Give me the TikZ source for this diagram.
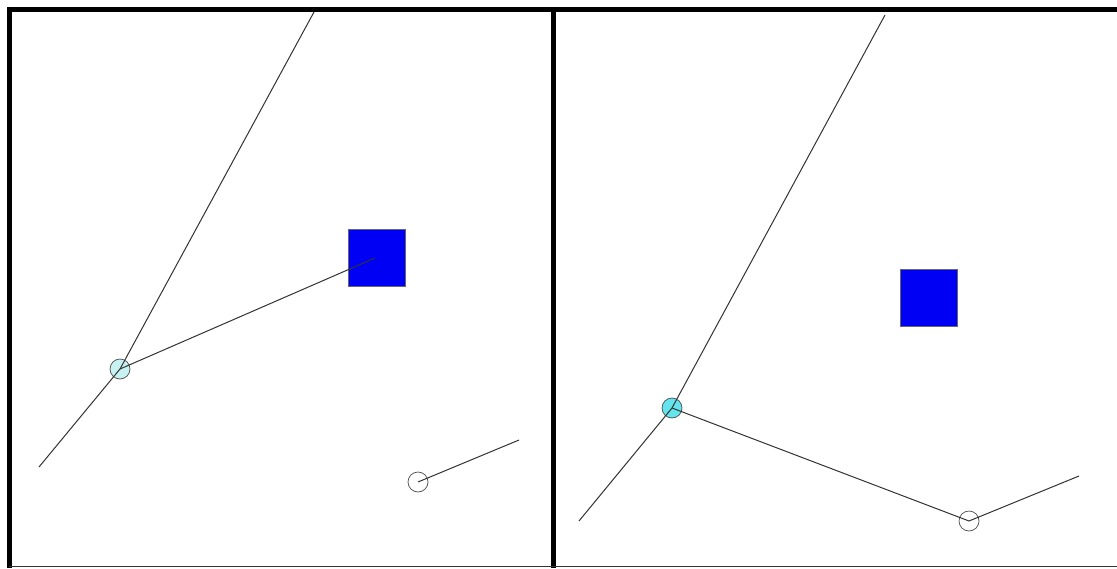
\documentclass[tikz,border=0pt]{standalone}
\usepackage{tikz}
\usetikzlibrary{calc}

\definecolor{palecyan}{RGB}{200,242,242}
\definecolor{midcyan}{RGB}{100,228,236}
\definecolor{boxblue}{RGB}{0,0,245}

\begin{document}
\begin{tikzpicture}[x=1pt,y=-1pt,
    frame/.style={line width=5pt},
    edge/.style={line width=1pt, draw=black!80},
    joint/.style={circle, draw=black!70, line width=0.7pt, minimum size=20pt, inner sep=0pt},
    target/.style={draw=black!60, fill=boxblue, minimum size=57pt, inner sep=0pt, line width=0.7pt}]
  \useasboundingbox (0,0) rectangle (1117,568);
  \fill[white] (0,0) rectangle (1117,568);

  % left panel
  \coordinate (A) at (39,467);
  \coordinate (B) at (314,12);
  \coordinate (C) at (375,258);
  \coordinate (D) at (519,440);
  \node[target] (box1) at (376.5,257.5) {};
  \node[joint, fill=palecyan] (j1) at (120,369) {};
  \node[joint, fill=white] (k1) at (418,482) {};

  \draw[edge] (A) -- (j1.center) -- (B);
  \draw[edge] (j1.center) -- (C);
  \draw[edge] (k1.center) -- (D);

  % right panel
  \coordinate (E) at (579,521);
  \coordinate (F) at (885,15);
  \coordinate (G) at (1079,476);
  \node[target] (box2) at (928.5,298) {};
  \node[joint, fill=midcyan] (j2) at (672,408) {};
  \node[joint, fill=white] (k2) at (969,521) {};

  \draw[edge] (E) -- (j2.center) -- (F);
  \draw[edge] (j2.center) -- (k2.center) -- (G);

  % frames
  \draw[frame] (7,9.5) -- (1117,9.5);
  \draw[frame] (9.5,7) -- (9.5,568);
  \draw[frame] (553,7) -- (553,568);
  \draw[line width=1.5pt, black!80] (9,566.5) -- (1117,566.5);
\end{tikzpicture}
\end{document}
